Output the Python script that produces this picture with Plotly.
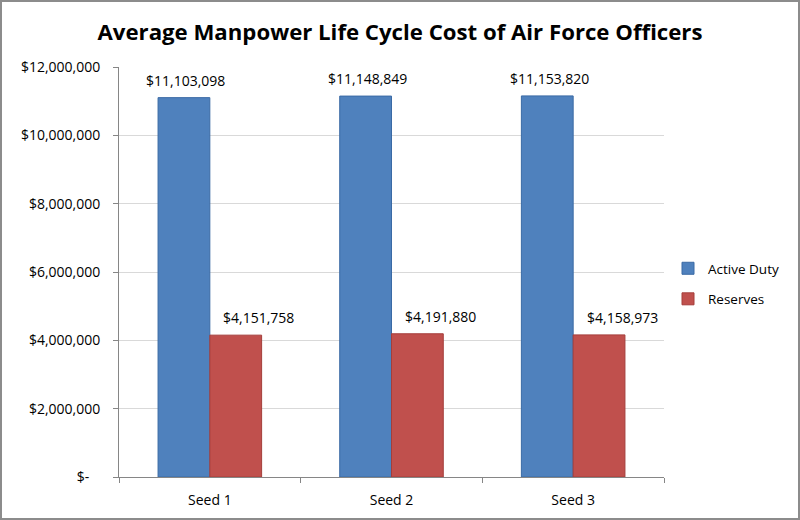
import plotly.graph_objects as go

categories = ["Seed 1", "Seed 2", "Seed 3"]
active_duty = [11103098, 11148849, 11153820]
reserves = [4151758, 4191880, 4158973]
tick_vals = [0, 2000000, 4000000, 6000000, 8000000, 10000000, 12000000]
tick_text = ["$-   ", "$2,000,000", "$4,000,000", "$6,000,000", "$8,000,000", "$10,000,000", "$12,000,000"]

FONT = "Open Sans"

def fmt(v):
    return "${:,}".format(v)

fig = go.Figure()
fig.add_trace(go.Bar(
    x=categories, y=active_duty, name="Active Duty", legendgroup="a",
    marker=dict(color="#4F81BD", line=dict(color="#3A6AA5", width=1)),
))
fig.add_trace(go.Bar(
    x=categories, y=reserves, name="Reserves", legendgroup="r",
    marker=dict(color="#C0504D", line=dict(color="#A53E3B", width=1)),
))

W, H = 800, 520
L, R, T, B = 119, 136, 67, 43
pw, ph = W - L - R, H - T - B

def px_x(x):
    return (x - L) / pw

def px_y(y):
    return (H - B - y) / ph

# data labels above each bar
annotations = []
for series, shift in ((active_duty, -24), (reserves, 49)):
    for c, v in zip(categories, series):
        annotations.append(dict(x=c, y=v, xref="x", yref="y", text=fmt(v),
                                showarrow=False, xshift=shift, yshift=6,
                                yanchor="bottom", xanchor="center",
                                font=dict(family=FONT, size=14, color="#000000")))

fig.update_layout(
    width=W, height=H,
    margin=dict(l=L, r=R, t=T, b=B, autoexpand=False),
    paper_bgcolor="white", plot_bgcolor="white",
    barmode="group", bargap=0.43, bargroupgap=0,
    title=dict(text="<b>Average Manpower Life Cycle Cost of Air Force Officers</b>",
               x=0.5, xanchor="center", y=1 - 32 / H, yanchor="middle",
               font=dict(family=FONT, size=22.2, color="#000000")),
    font=dict(family=FONT, size=14, color="#000000"),
    legend=dict(x=px_x(668), xanchor="left", y=px_y(284), yanchor="middle",
                font=dict(family=FONT, size=13.5, color="#000000"),
                tracegroupgap=10, traceorder="grouped",
                bgcolor="rgba(0,0,0,0)"),
    showlegend=True,
    xaxis=dict(showline=True, linecolor="#868686", linewidth=1,
               ticks="outside", tickson="boundaries", ticklen=5, tickcolor="#868686",
               showgrid=False, ticklabelstandoff=10, tickfont=dict(family=FONT, size=14)),
    yaxis=dict(range=[0, 12000000], tickvals=tick_vals, ticktext=tick_text,
               showline=True, linecolor="#868686", linewidth=1,
               ticks="outside", ticklen=5, tickcolor="#868686",
               showgrid=True, gridcolor="#D9D9D9", gridwidth=1,
               ticklabelstandoff=10,
               zeroline=False, tickfont=dict(family=FONT, size=14)),
    annotations=annotations,
    shapes=[dict(type="rect", xref="paper", yref="paper",
                 x0=px_x(1), x1=px_x(799), y0=px_y(519), y1=px_y(1),
                 line=dict(color="#8C8C8C", width=2), fillcolor="rgba(0,0,0,0)")],
)

fig.write_html("out.html", config={"displayModeBar": False},
               post_script="document.body.style.margin='0';document.body.style.padding='0';")
